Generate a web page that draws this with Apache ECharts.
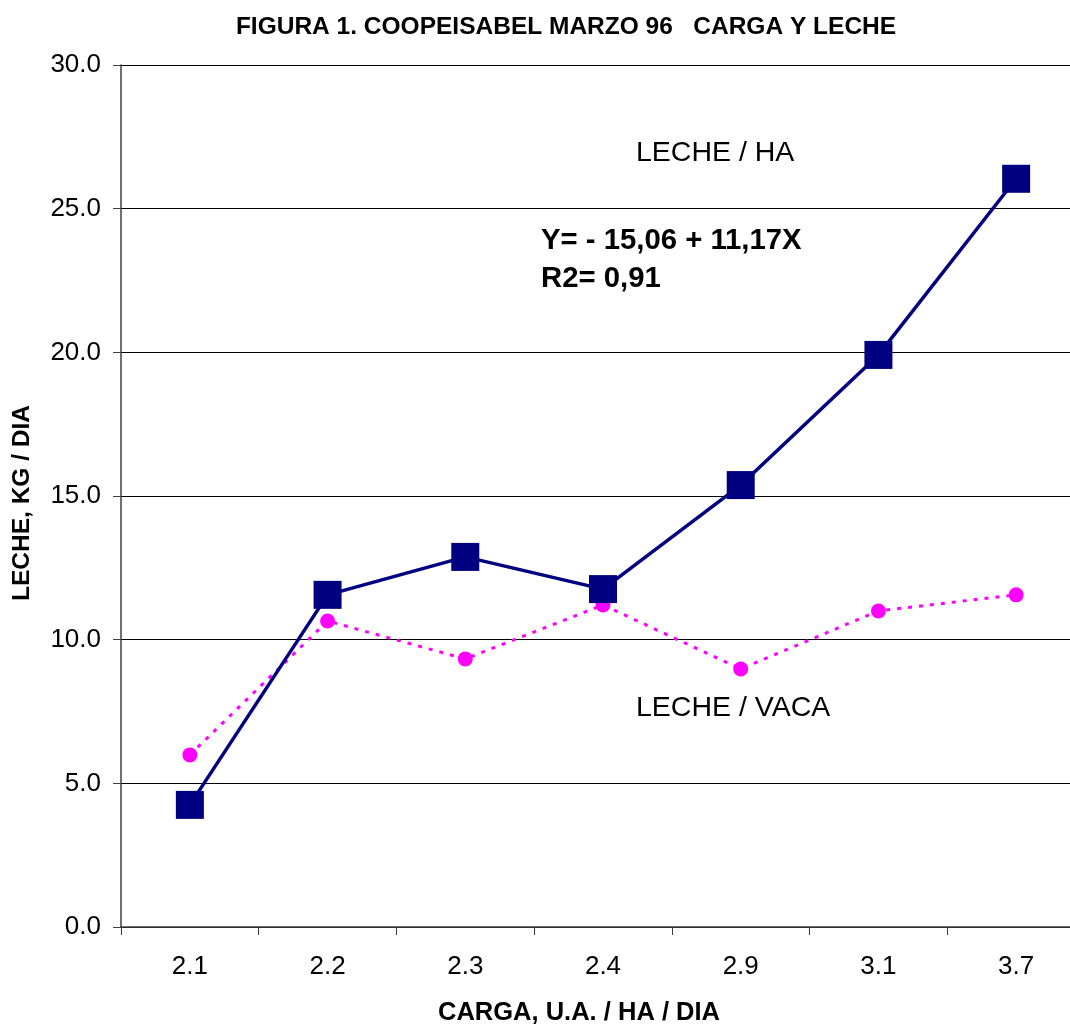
<!DOCTYPE html>
<html>
<head>
<meta charset="utf-8">
<script src="https://cdn.jsdelivr.net/npm/echarts@6/dist/echarts.min.js"></script>
<style>
html,body{margin:0;padding:0;background:#fff;}
#chart{width:1070px;height:1027px;}
</style>
</head>
<body>
<div id="chart"></div>
<script>
const categories = ['2.1', '2.2', '2.3', '2.4', '2.9', '3.1', '3.7'];
const lecheHa = [4.25, 11.56, 12.88, 11.76, 15.38, 19.91, 26.04];
const lecheVaca = [5.99, 10.65, 9.33, 11.21, 8.98, 11.0, 11.56];
const yTicks = { min: 0, max: 30, interval: 5 };

const chart = echarts.init(document.getElementById('chart'));
const font = 'Liberation Sans, Arial, sans-serif';
chart.setOption({
  animation: false,
  backgroundColor: '#fff',
  title: {
    text: 'FIGURA 1. COOPEISABEL MARZO 96   CARGA Y LECHE',
    left: 561, top: 10, textAlign: 'center',
    textStyle: { fontFamily: font, fontSize: 24.5, fontWeight: 'bold', color: '#000' }
  },
  grid: { left: 121, width: 964, top: 65, height: 862, containLabel: false, outerBoundsMode: 'none' },
  xAxis: {
    type: 'category',
    data: categories,
    boundaryGap: true,
    axisLine: { lineStyle: { color: '#404040', width: 1.5 } },
    axisTick: { show: true, length: 8, lineStyle: { color: '#404040', width: 1 } },
    axisLabel: { fontFamily: font, fontSize: 26, color: '#000', margin: 27 },
    name: 'CARGA, U.A. / HA / DIA',
    nameLocation: 'middle',
    nameGap: 73,
    nameTextStyle: { fontFamily: font, fontSize: 25.5, fontWeight: 'bold', color: '#000', padding: [0, 48, 0, 0] }
  },
  yAxis: {
    type: 'value',
    min: yTicks.min, max: yTicks.max, interval: yTicks.interval,
    axisLine: { show: true, lineStyle: { color: '#404040', width: 1.5 } },
    axisTick: { show: true, length: 8, lineStyle: { color: '#404040' } },
    axisLabel: { fontFamily: font, fontSize: 26, color: '#000', margin: 20, formatter: v => v.toFixed(1) },
    splitLine: { show: true, lineStyle: { color: '#000', width: 1 } },
    name: 'LECHE, KG / DIA',
    nameLocation: 'middle',
    nameGap: 86,
    nameRotate: 90,
    nameTextStyle: { fontFamily: font, fontSize: 24.5, fontWeight: 'bold', color: '#000', padding: [0, 14, 0, 0] }
  },
  series: [
    {
      name: 'LECHE / HA',
      type: 'line',
      data: lecheHa,
      symbol: 'rect',
      symbolSize: 28,
      itemStyle: { color: '#000080' },
      lineStyle: { color: '#000080', width: 3.5 },
      z: 3
    },
    {
      name: 'LECHE / VACA',
      type: 'line',
      data: lecheVaca,
      symbol: 'circle',
      symbolSize: 15,
      itemStyle: { color: '#FF00FF' },
      lineStyle: { color: '#FF00FF', width: 3, type: [4, 7] },
      z: 2
    }
  ],
  graphic: [
    { type: 'text', left: 636, top: 139, style: { text: 'LECHE / HA', font: '28.5px ' + font, fill: '#000' } },
    { type: 'text', left: 541, top: 226, style: { text: 'Y= - 15,06 + 11,17X', font: 'bold 29.3px ' + font, fill: '#000' } },
    { type: 'text', left: 541, top: 264, style: { text: 'R2= 0,91', font: 'bold 29.3px ' + font, fill: '#000' } },
    { type: 'text', left: 636, top: 694, style: { text: 'LECHE / VACA', font: '28.5px ' + font, fill: '#000' } }
  ]
});
</script>
</body>
</html>
